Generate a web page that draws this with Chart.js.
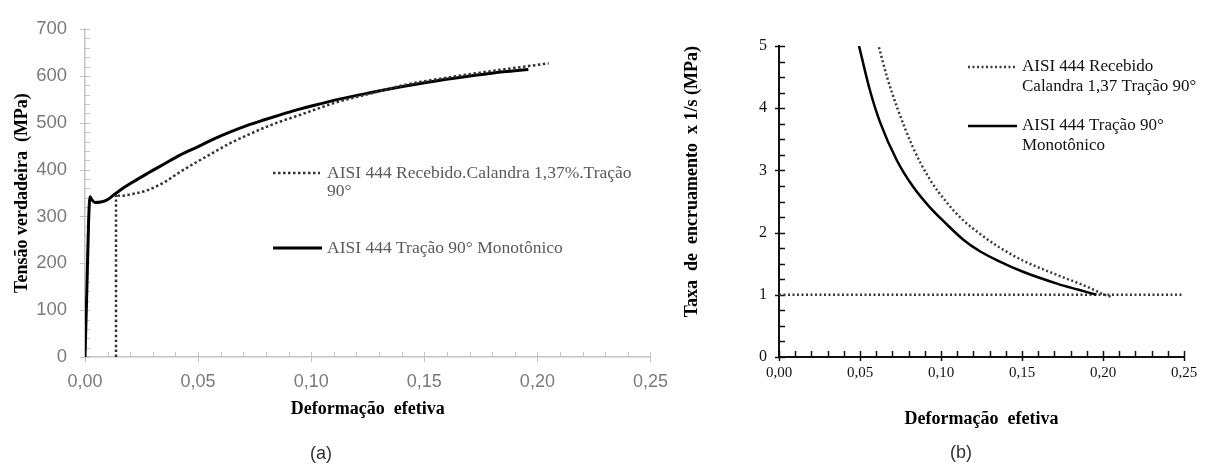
<!DOCTYPE html>
<html lang="pt">
<head>
<meta charset="utf-8">
<title>AISI 444 – Tensão verdadeira e taxa de encruamento</title>
<script src="https://cdn.jsdelivr.net/npm/chart.js"></script>
<style>
  html, body { margin: 0; padding: 0; background: #fff; width: 1209px; height: 467px; overflow: hidden; }
  .panel { position: absolute; top: 0; }
  #panelA { left: 0; }
  #panelB { left: 660px; }
  .caption { position: absolute; font-family: "Liberation Sans", Arial, sans-serif; font-size: 18px; color: #333; transform: translate(-50%, -50%); white-space: nowrap; }
</style>
</head>
<body>
<div class="panel" id="panelA"><canvas id="chartA" width="682" height="467"></canvas></div>
<div class="panel" id="panelB"><canvas id="chartB" width="549" height="467"></canvas></div>
<div class="caption" style="left:321px; top:453px;">(a)</div>
<div class="caption" style="left:961px; top:452px;">(b)</div>
<script>
// ---- (a) true stress vs effective strain ----
const strainMono = [0, 0.0008, 0.0016, 0.0022, 0.003, 0.0044, 0.007, 0.0096, 0.0125, 0.0155, 0.021, 0.0273, 0.035, 0.042, 0.05, 0.0568, 0.064, 0.0715, 0.079, 0.0863, 0.094, 0.101, 0.113, 0.125, 0.1423, 0.157, 0.1718, 0.185, 0.196];
const stressMono = [0, 140, 290, 342, 336, 330, 331, 335, 345, 356, 373, 391, 412, 431, 449, 465, 480, 494, 506, 517, 528, 537, 551, 563, 579, 591, 601, 609, 614];

const strainRec = [0.0137, 0.0137, 0.0145, 0.016, 0.02, 0.027, 0.035, 0.042, 0.05, 0.057, 0.064, 0.072, 0.079, 0.086, 0.094, 0.101, 0.11, 0.12, 0.13, 0.1423, 0.157, 0.1718, 0.185, 0.196, 0.205];
const stressRec = [0, 348, 345, 344, 347, 355, 373, 395, 418, 437, 456, 474, 489, 502, 515, 527, 542, 555, 567, 582, 594, 605, 614, 621, 627];

// ---- (b) work-hardening rate vs effective strain ----
const hardStrainMono = [0.0494, 0.056, 0.0623, 0.0728, 0.0827, 0.093, 0.1037, 0.1136, 0.124, 0.135, 0.1506, 0.1716, 0.185, 0.196];
const hardRateMono   = [5.0, 4.3, 3.78, 3.16, 2.74, 2.41, 2.13, 1.89, 1.70, 1.55, 1.37, 1.18, 1.08, 1.0];

const hardStrainRec = [0.0617, 0.0667, 0.0728, 0.0827, 0.093, 0.1037, 0.1136, 0.124, 0.135, 0.1506, 0.1716, 0.192, 0.2, 0.206];
const hardRateRec   = [4.98, 4.5, 4.02, 3.37, 2.86, 2.48, 2.2, 1.98, 1.78, 1.55, 1.32, 1.11, 1.01, 0.96];

// Considère criterion reference (rate = 1)
const unityStrain = [0, 0.25];
const unityRate   = [1, 1];

// Tick values
const stressTicks = [0, 100, 200, 300, 400, 500, 600, 700];
const strainTicks = [0, 0.05, 0.10, 0.15, 0.20, 0.25];
const rateTicks   = [0, 1, 2, 3, 4, 5];

// Legend texts
const legendRecA  = ['AISI 444 Recebido.Calandra 1,37%.Tração', '90°'];
const legendMonoA = ['AISI 444 Tração 90° Monotônico'];
const legendRecB  = ['AISI 444 Recebido', 'Calandra 1,37 Tração 90°'];
const legendMonoB = ['AISI 444 Tração 90°', 'Monotônico'];

const toPoints = (xs, ys) => xs.map((x, i) => ({ x, y: ys[i] }));
const comma2 = v => Number(v).toFixed(2).replace('.', ',');

// Minor/major tick marks along both axes
const tickMarks = {
  id: 'tickMarks',
  beforeDatasetsDraw(chart, args, o) {
    const { ctx, chartArea, scales } = chart;
    ctx.save();
    ctx.strokeStyle = o.color;
    ctx.lineWidth = o.width;
    ['x', 'y'].forEach(id => {
      const s = scales[id], c = o[id];
      const n = Math.round((s.max - s.min) / c.minor);
      const every = Math.round(c.major / c.minor);
      for (let i = 0; i <= n; i++) {
        const p = Math.round(s.getPixelForValue(s.min + i * c.minor)) + 0.5;
        const major = i % every === 0;
        ctx.beginPath();
        if (id === 'x') {
          ctx.moveTo(p, chartArea.bottom - o.inner);
          ctx.lineTo(p, chartArea.bottom + (major ? o.outer : 0));
        } else {
          ctx.moveTo(chartArea.left - (major ? o.outer : 0), p);
          ctx.lineTo(chartArea.left + o.inner, p);
        }
        ctx.stroke();
      }
    });
    ctx.restore();
  }
};

// Legend drawn inside the plot area
const inlineLegend = {
  id: 'inlineLegend',
  afterDatasetsDraw(chart, args, o) {
    const ctx = chart.ctx;
    ctx.save();
    ctx.font = o.font;
    ctx.fillStyle = o.color;
    ctx.textBaseline = 'middle';
    o.items.forEach(it => {
      const ds = chart.data.datasets[it.dataset];
      ctx.save();
      ctx.strokeStyle = ds.borderColor;
      ctx.lineWidth = ds.borderWidth;
      ctx.setLineDash(ds.borderDash || []);
      ctx.beginPath();
      ctx.moveTo(it.x0, it.y);
      ctx.lineTo(it.x1, it.y);
      ctx.stroke();
      ctx.restore();
      it.lines.forEach((t, k) => ctx.fillText(t, it.tx, it.y + k * o.lineHeight));
    });
    ctx.restore();
  }
};

Chart.register(tickMarks, inlineLegend);

const serifBold = size => ({ family: '"Liberation Serif", "Times New Roman", serif', size, weight: 'bold' });
const noGrid = { display: false, drawTicks: false, drawOnChartArea: false };

// ---------- Chart (a) ----------
new Chart(document.getElementById('chartA'), {
  type: 'line',
  data: {
    datasets: [
      {
        label: legendRecA.join(' '),
        data: toPoints(strainRec, stressRec),
        borderColor: '#333',
        borderWidth: 2.5,
        borderDash: [2.5, 2.5],
        pointRadius: 0,
        cubicInterpolationMode: 'monotone',
        fill: false
      },
      {
        label: legendMonoA.join(' '),
        data: toPoints(strainMono, stressMono),
        borderColor: '#000',
        borderWidth: 3,
        pointRadius: 0,
        cubicInterpolationMode: 'monotone',
        fill: false
      }
    ]
  },
  options: {
    responsive: false,
    animation: false,
    layout: { padding: { left: 0, right: 20, top: 22, bottom: 0 } },
    plugins: {
      legend: { display: false },
      tooltip: { enabled: false },
      tickMarks: { color: '#c4c4c4', width: 1, inner: 5, outer: 5,
        x: { minor: 0.01, major: 0.05 }, y: { minor: 20, major: 100 } },
      inlineLegend: {
        font: '17.5px "Liberation Serif", "Times New Roman", serif',
        color: '#5a5a5a', lineHeight: 18,
        items: [
          { dataset: 0, x0: 273, x1: 320, y: 173, tx: 327, lines: legendRecA },
          { dataset: 1, x0: 273, x1: 322, y: 248, tx: 327, lines: legendMonoA }
        ]
      }
    },
    scales: {
      x: {
        type: 'linear',
        min: strainTicks[0], max: strainTicks[strainTicks.length - 1],
        afterFit: s => { s.height = 110; },
        afterBuildTicks: s => { s.ticks = strainTicks.map(v => ({ value: v })); },
        grid: noGrid,
        border: { display: true, color: '#c4c4c4', width: 1.5 },
        ticks: { padding: 14, color: '#7a7a7a', font: { family: '"Liberation Sans", Arial, sans-serif', size: 18 }, callback: v => comma2(v) },
        title: { display: true, text: 'Deformação  efetiva', color: '#000', font: serifBold(18), padding: { top: 0, bottom: 47 } }
      },
      y: {
        type: 'linear',
        min: stressTicks[0], max: stressTicks[stressTicks.length - 1],
        afterFit: s => { s.width = 85; },
        afterBuildTicks: s => { s.ticks = stressTicks.map(v => ({ value: v })); },
        grid: noGrid,
        border: { display: true, color: '#c4c4c4', width: 1.5 },
        ticks: { padding: 18, color: '#7a7a7a', font: { family: '"Liberation Sans", Arial, sans-serif', size: 18.5 } },
        title: { display: true, text: 'Tensão verdadeira  (MPa)', color: '#000', font: serifBold(18), padding: { top: 12, bottom: 0 } }
      }
    }
  }
});

// ---------- Chart (b) ----------
new Chart(document.getElementById('chartB'), {
  type: 'line',
  data: {
    datasets: [
      {
        label: legendRecB.join(' '),
        data: toPoints(hardStrainRec, hardRateRec),
        borderColor: '#3a3a3a',
        borderWidth: 2.5,
        borderDash: [2, 2.5],
        pointRadius: 0,
        cubicInterpolationMode: 'monotone',
        fill: false
      },
      {
        label: legendMonoB.join(' '),
        data: toPoints(hardStrainMono, hardRateMono),
        borderColor: '#000',
        borderWidth: 2.5,
        pointRadius: 0,
        cubicInterpolationMode: 'monotone',
        fill: false
      },
      {
        label: 'θ = 1',
        data: toPoints(unityStrain, unityRate),
        borderColor: '#3a3a3a',
        borderWidth: 2.5,
        borderDash: [2, 2.5],
        pointRadius: 0,
        fill: false
      }
    ]
  },
  options: {
    responsive: false,
    animation: false,
    layout: { padding: { left: 0, right: 25, top: 46, bottom: 0 } },
    plugins: {
      legend: { display: false },
      tooltip: { enabled: false },
      tickMarks: { color: '#111', width: 1.5, inner: 6, outer: 4,
        x: { minor: 0.01, major: 0.05 }, y: { minor: 0.25, major: 1 } },
      inlineLegend: {
        font: '17px "Liberation Serif", "Times New Roman", serif',
        color: '#111', lineHeight: 19.5,
        items: [
          { dataset: 0, x0: 308, x1: 355, y: 67, tx: 362, lines: legendRecB },
          { dataset: 1, x0: 308, x1: 357, y: 126, tx: 362, lines: legendMonoB }
        ]
      }
    },
    scales: {
      x: {
        type: 'linear',
        min: strainTicks[0], max: strainTicks[strainTicks.length - 1],
        afterFit: s => { s.height = 110; },
        afterBuildTicks: s => { s.ticks = strainTicks.map(v => ({ value: v })); },
        grid: noGrid,
        border: { display: true, color: '#111', width: 2 },
        ticks: { padding: 7, color: '#111', font: { family: '"Liberation Serif", "Times New Roman", serif', size: 15 }, callback: v => comma2(v) },
        title: { display: true, text: 'Deformação  efetiva', color: '#000', font: serifBold(18), padding: { top: 0, bottom: 37 } }
      },
      y: {
        type: 'linear',
        min: rateTicks[0], max: rateTicks[rateTicks.length - 1],
        afterFit: s => { s.width = 119; },
        afterBuildTicks: s => { s.ticks = rateTicks.map(v => ({ value: v })); },
        grid: noGrid,
        border: { display: true, color: '#111', width: 2 },
        ticks: { padding: 12, color: '#111', font: { family: '"Liberation Serif", "Times New Roman", serif', size: 16 } },
        title: { display: true, text: 'Taxa  de  encruamento  x 1/s (MPa)', align: 'end', color: '#000', font: serifBold(18), padding: { top: 22, bottom: 0 } }
      }
    }
  }
});
</script>
</body>
</html>
